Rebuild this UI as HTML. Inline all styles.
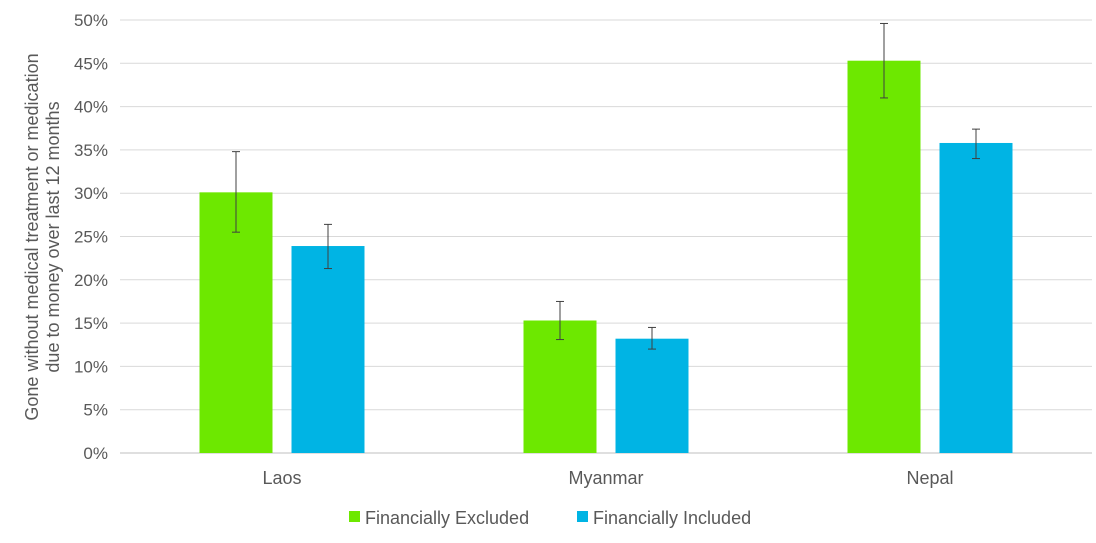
<!DOCTYPE html>
<html><head><meta charset="utf-8"><style>
body{margin:0;background:#fff;width:1096px;height:538px;overflow:hidden;font-family:"Liberation Sans",sans-serif}
</style></head><body>
<svg id="chart" width="1096" height="538">
<g id="grid"></g><g id="bars"></g><g id="labels"></g>
<text transform="translate(38,237) rotate(-90)" text-anchor="middle" font-size="18" fill="#595959"><tspan x="0" dy="0">Gone without medical treatment or medication</tspan><tspan x="0" dy="21">due to money over last 12 months</tspan></text>
<g>
<rect x="349" y="511" width="11" height="11" fill="#6de800"/>
<text x="365" y="524" font-size="18" fill="#595959">Financially Excluded</text>
<rect x="577" y="511" width="11" height="11" fill="#00b4e4"/>
<text x="593" y="524" font-size="18" fill="#595959">Financially Included</text>
</g>
</svg>
<script>
const categories=["Laos","Myanmar","Nepal"];
const excluded=[30.1,15.3,45.3];
const excludedLow=[25.5,13.1,41.0];
const excludedHigh=[34.8,17.5,49.6];
const included=[23.9,13.2,35.8];
const includedLow=[21.3,12.0,34.0];
const includedHigh=[26.4,14.5,37.4];
const yTicks=[0,5,10,15,20,25,30,35,40,45,50];
const NS="http://www.w3.org/2000/svg";
const x0=120,x1=1092,y0=453,y1=20;
const y=v=>y0-(v/50)*(y0-y1);
const band=(x1-x0)/categories.length;
const cx=i=>x0+band*(i+0.5);
function mk(t,a,p){const e=document.createElementNS(NS,t);for(const k in a)e.setAttribute(k,a[k]);p.appendChild(e);return e;}
const grid=document.getElementById('grid'),bars=document.getElementById('bars'),labels=document.getElementById('labels');
yTicks.forEach(t=>{
 const l=mk('line',{x1:x0,x2:x1,y1:y(t),y2:y(t),stroke:t===0?'#bfbfbf':'#d9d9d9','stroke-width':1},grid);
 
 
 const tx=mk('text',{x:108,y:y(t)+6,'text-anchor':'end','font-size':17,fill:'#595959'},labels);
 tx.textContent=t+'%';
 
 
});
const bw=73,gap=19;
function drawBar(i,v,lo,hi,color,dx,name){
 const bx=cx(i)+dx;
 const r=mk('rect',{x:bx-bw/2,y:y(v),width:bw,height:y0-y(v),fill:color},bars);
 
 
 const g=mk('g',{stroke:'#404040','stroke-width':1},bars);
 
 
 mk('line',{x1:bx,x2:bx,y1:y(lo),y2:y(hi)},g);
 mk('line',{x1:bx-4,x2:bx+4,y1:y(lo),y2:y(lo)},g);
 mk('line',{x1:bx-4,x2:bx+4,y1:y(hi),y2:y(hi)},g);
}
categories.forEach((c,i)=>{
 drawBar(i,excluded[i],excludedLow[i],excludedHigh[i],'#6de800',-(bw+gap)/2,'excluded');
 drawBar(i,included[i],includedLow[i],includedHigh[i],'#00b4e4',(bw+gap)/2,'included');
 const t=mk('text',{x:cx(i),y:484,'text-anchor':'middle','font-size':18,fill:'#595959'},labels);
 t.textContent=c;
 
 
});
</script>
</body></html>
